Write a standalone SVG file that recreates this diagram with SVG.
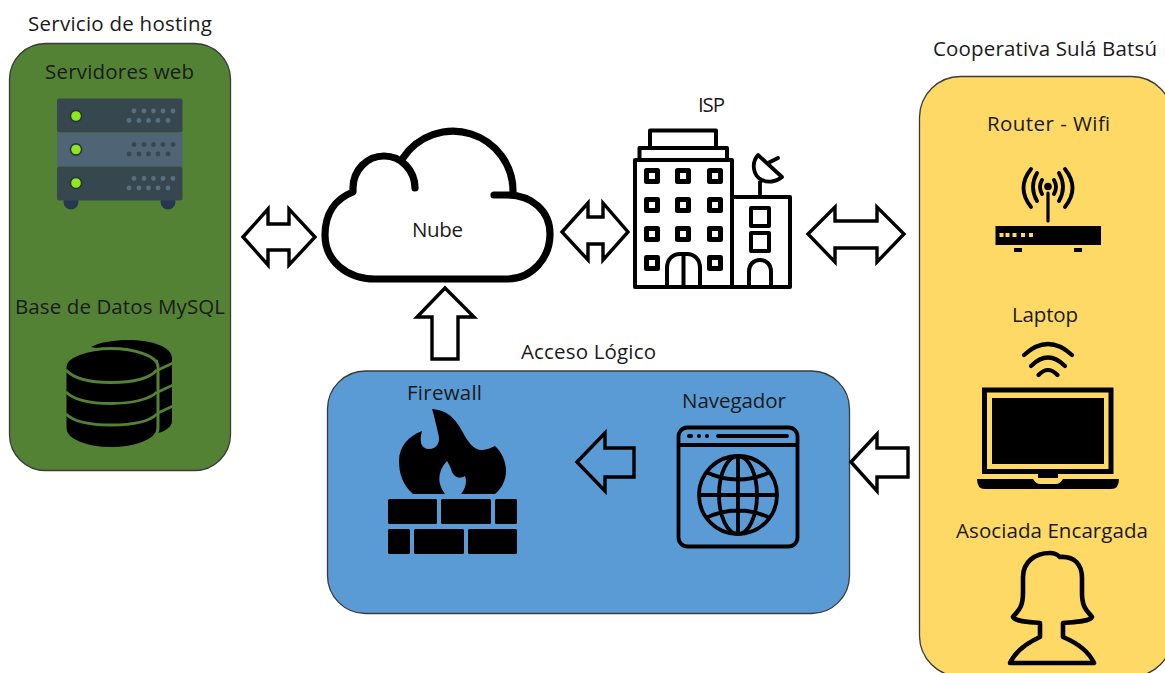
<svg xmlns="http://www.w3.org/2000/svg" width="1165" height="673" viewBox="0 0 1165 673">
<style>
text{font-family:"Open Sans","Noto Sans","Liberation Sans",sans-serif;font-size:20.5px;fill:#1a1a1a}
.panel{stroke:#3a3a3a;stroke-width:1.3}
.arrow{fill:#fff;stroke:#000;stroke-width:3.4;stroke-linejoin:miter}
.line{fill:none;stroke:#000;stroke-linecap:round;stroke-linejoin:round}
.blk{fill:#000}
.d1{fill:#56707f}.d2{fill:#37474f}
.led{fill:#8fe81c;stroke:#26343c;stroke-width:1.6}
</style>
<rect width="1165" height="673" fill="#fff"/>

<g id="hosting">
<text x="28" y="31" textLength="184">Servicio de hosting</text>
<rect class="panel" x="9.500" y="43.500" width="221" height="427" rx="36" fill="#548235"/>
</g>

<g id="servidores">
<text x="45" y="79" textLength="149">Servidores web</text>
<circle cx="71" cy="202" r="7.500" fill="#263850"/><circle cx="168" cy="202" r="7.500" fill="#263850"/>
<rect x="57" y="98.500" width="125.500" height="34" rx="2.500" fill="#37474f"/>
<rect x="57" y="133" width="125.500" height="33.500" fill="#4f6575"/>
<rect x="57" y="166.500" width="125.500" height="34" rx="2.500" fill="#37474f"/>
<circle class="led" cx="76" cy="116" r="5.600"/><circle class="led" cx="76" cy="149.500" r="5.600"/><circle class="led" cx="76" cy="183" r="5.600"/>
<g class="d1"><circle cx="134" cy="111" r="2.400"/><circle cx="144" cy="111" r="2.400"/><circle cx="153.500" cy="111" r="2.400"/><circle cx="163" cy="111" r="2.400"/><circle cx="173" cy="111" r="2.400"/><circle cx="129" cy="120.500" r="2.400"/><circle cx="139" cy="120.500" r="2.400"/><circle cx="148.500" cy="120.500" r="2.400"/><circle cx="158" cy="120.500" r="2.400"/><circle cx="168" cy="120.500" r="2.400"/>
<circle cx="134" cy="178.500" r="2.400"/><circle cx="144" cy="178.500" r="2.400"/><circle cx="153.500" cy="178.500" r="2.400"/><circle cx="163" cy="178.500" r="2.400"/><circle cx="173" cy="178.500" r="2.400"/><circle cx="129" cy="188" r="2.400"/><circle cx="139" cy="188" r="2.400"/><circle cx="148.500" cy="188" r="2.400"/><circle cx="158" cy="188" r="2.400"/><circle cx="168" cy="188" r="2.400"/></g>
<g class="d2"><circle cx="134" cy="144.500" r="2.400"/><circle cx="144" cy="144.500" r="2.400"/><circle cx="153.500" cy="144.500" r="2.400"/><circle cx="163" cy="144.500" r="2.400"/><circle cx="173" cy="144.500" r="2.400"/><circle cx="129" cy="154" r="2.400"/><circle cx="139" cy="154" r="2.400"/><circle cx="148.500" cy="154" r="2.400"/><circle cx="158" cy="154" r="2.400"/><circle cx="168" cy="154" r="2.400"/></g>
</g>

<g id="mysql">
<text x="15" y="314" textLength="210">Base de Datos MySQL</text>
<path class="blk" d="M91 347C100 342 115 340 128 340C152 340 172 347 172 358V421C172 427 165 431 158 433V360Z"/>
<path class="blk" stroke="#548235" stroke-width="3" d="M65 367C65 356 88 348.500 111 348.500C134 348.500 158 356 158 367V428C158 441 134 448.500 111 448.500C88 448.500 65 441 65 428Z"/>
<g fill="none" stroke="#548235" stroke-width="2.800">
<path d="M66 370C74 379 92 382.500 111 382.500C130 382.500 149 379 157 370"/>
<path d="M66 392C74 400 92 403.500 111 403.500C130 403.500 149 400 157 392"/>
<path d="M66 414C74 422 92 425 111 425C130 425 149 422 157 414"/>
<path d="M158 370L173 363M158 392L173 385M158 413L173 406"/>
</g>
</g>

<g id="nube">
<path class="line" stroke-width="7.200" d="M415 188A31 32 0 0 0 353 188V192C335 199 325 214 325 235C325 261 347 279 375 279H507C532 279 550 258 550 234C550 211 532 195 507 195H494M513 192A60 60 0 0 0 403 158"/>
<text x="412" y="237" textLength="51">Nube</text>
</g>

<g id="isp">
<text x="698" y="112" textLength="27">ISP</text>
<g fill="none" stroke="#000" stroke-width="4" stroke-linejoin="round">
<rect x="635" y="160" width="97" height="127"/>
<rect x="639.500" y="148" width="87.500" height="12"/>
<rect x="650" y="130.500" width="66" height="17.500"/>
<rect x="732" y="197" width="58" height="90"/>
<g stroke-width="5"><rect x="646.500" y="170.500" width="11" height="11"/><rect x="677.500" y="170.500" width="11" height="11"/><rect x="709.500" y="170.500" width="11" height="11"/>
<rect x="646.500" y="199.500" width="11" height="11"/><rect x="677.500" y="199.500" width="11" height="11"/><rect x="709.500" y="199.500" width="11" height="11"/>
<rect x="646.500" y="228.500" width="11" height="11"/><rect x="677.500" y="228.500" width="11" height="11"/><rect x="709.500" y="228.500" width="11" height="11"/>
<rect x="646.500" y="257.500" width="11" height="11"/><rect x="709.500" y="257.500" width="11" height="11"/></g>
<path d="M667 287V268C667 259 673 254 680 254H687C694 254 700 259 700 268V287M683.500 254V287"/>
<rect x="751" y="208" width="18" height="18"/><rect x="751" y="233" width="18" height="18"/>
<path d="M749 287V272C749 264 754 260 760 260C766 260 771 264 771 272V287"/>
<path d="M760 197V181M758 155C751 163 753 176 762 180C768 183 776 182 782 177Z" stroke-width="3.800"/>
<path d="M768 163L778 158" stroke-width="3.800" stroke-linecap="round"/>
</g>
</g>

<g id="acceso">
<text x="521" y="359" textLength="135">Acceso Lógico</text>
<rect class="panel" x="327.500" y="371" width="522" height="242.500" rx="38" fill="#5b9bd5"/>
</g>

<g id="firewall">
<text x="407" y="400" textLength="75">Firewall</text>
<path class="blk" d="M413 494C403 485 399 474 399 461C399 446 409 436 422 431C419 441 421 449 429 449C437 449 441 442 438 433C436 424 434 415 432 409C447 410 455 418 462 431C468 442 474 451 483 450C488 449 491 448 495 446C502 452 506 462 506 471C506 481 501 489 495 494H461C466 488 467 481 465 476C460 479 455 478 452 472C451 468 449 464 447 461C441 467 438 476 440 484C441 488 443 491 445 494Z"/>
<g class="blk"><rect x="388" y="499" width="49" height="25" rx="1.500"/><rect x="441" y="499" width="50" height="25" rx="1.500"/><rect x="495" y="499" width="22" height="25" rx="1.500"/><rect x="388" y="529" width="22" height="25" rx="1.500"/><rect x="414" y="529" width="50" height="25" rx="1.500"/><rect x="468" y="529" width="49" height="25" rx="1.500"/></g>
</g>

<g id="navegador">
<text x="682" y="408" textLength="104">Navegador</text>
<g fill="none" stroke="#000" stroke-width="3.800">
<rect x="678.500" y="427.500" width="119" height="119" rx="9"/>
<path d="M678.500 445H797.500"/>
<circle cx="738" cy="495" r="39"/>
<ellipse cx="738" cy="495" rx="19" ry="39"/>
<path d="M738 456V534M699 495H777M706 472C726 482 750 482 770 472M706 518C726 508 750 508 770 518"/>
<path d="M718 436H787" stroke-linecap="round"/>
</g>
<g class="blk"><rect x="687" y="434" width="6" height="4" rx="2"/><circle cx="699" cy="436" r="2"/><circle cx="707" cy="436" r="2"/></g>
</g>

<g id="cooperativa">
<text x="933" y="56" textLength="224">Cooperativa Sulá Batsú</text>
<rect class="panel" x="919.500" y="76.500" width="253" height="600" rx="41" fill="#ffd966"/>
</g>

<g id="router">
<text x="987" y="131" textLength="123">Router - Wifi</text>
<rect class="blk" x="995.500" y="226" width="105.500" height="19"/>
<g fill="#ffd966"><rect x="999.500" y="233" width="4" height="4"/><rect x="1005.500" y="233" width="4" height="4"/><rect x="1012.500" y="233" width="4" height="4"/><rect x="1021" y="233" width="4" height="4"/><rect x="1029" y="233" width="4" height="4"/></g>
<rect class="blk" x="1014" y="248" width="8" height="4"/><rect class="blk" x="1074" y="248" width="8" height="4"/>
<circle class="blk" cx="1048" cy="186.500" r="3.800"/>
<path class="line" stroke-width="3.200" d="M1048 193V221"/>
<path class="line" stroke-width="3.800" d="M1042 180Q1038 187 1042 194M1054 180Q1058 187 1054 194M1037 173Q1029 187 1037 201M1059 173Q1067 187 1059 201M1031 169Q1016 188 1031 207M1065 169Q1080 188 1065 207"/>
</g>

<g id="laptop">
<text x="1012" y="322" textLength="66">Laptop</text>
<path class="line" stroke-width="4.200" d="M1024 355Q1048 333 1072 355M1031 366Q1048 349 1065 366M1038.500 375Q1048 365 1057.500 375"/>
<rect x="984.500" y="390" width="126.500" height="81.500" fill="none" stroke="#000" stroke-width="5"/>
<rect class="blk" x="992" y="398" width="112" height="66"/>
<rect class="blk" x="1038" y="474" width="20" height="4"/>
<path class="blk" d="M977 479H1033Q1036 484 1040 484H1056Q1060 484 1063 479H1119Q1119 489 1111 489H985Q977 489 977 479Z"/>
</g>

<g id="asociada">
<text x="956" y="538" textLength="192">Asociada Encargada</text>
<path class="line" stroke-width="4.600" d="M1040 623C1030 622 1016 622 1013 617C1016 612 1023 610 1023 593V577C1023 562 1035 553 1050 553C1054 553 1057 554 1060 557C1075 556 1082 565 1082 578V593C1082 610 1089 612 1092 617C1089 622 1073 622 1063 623V637C1075 642 1088 650 1094 663H1010C1016 650 1029 642 1040 637Z"/>
</g>

<g id="connectors">
<polygon class="arrow" points="243,237 268,209 268,224 289,224 289,209 315,237 289,265 289,250 268,250 268,265"/>
<polygon class="arrow" points="562,232 588,203 588,217 603,217 603,203 628,232 603,260 603,244 588,244 588,260"/>
<polygon class="arrow" points="808,234 835,207 835,221 877,221 877,207 904,234 877,262 877,248 835,248 835,262"/>
<polygon class="arrow" points="445,288 474,317 458,317 458,359 432,359 432,317 417,317"/>
<polygon class="arrow" style="fill:none" points="577,462 605,433 605,448 634,448 634,477 605,477 605,491"/>
<polygon class="arrow" points="851,462 877,434 877,448 908,448 908,477 877,477 877,491"/>
</g>
</svg>
